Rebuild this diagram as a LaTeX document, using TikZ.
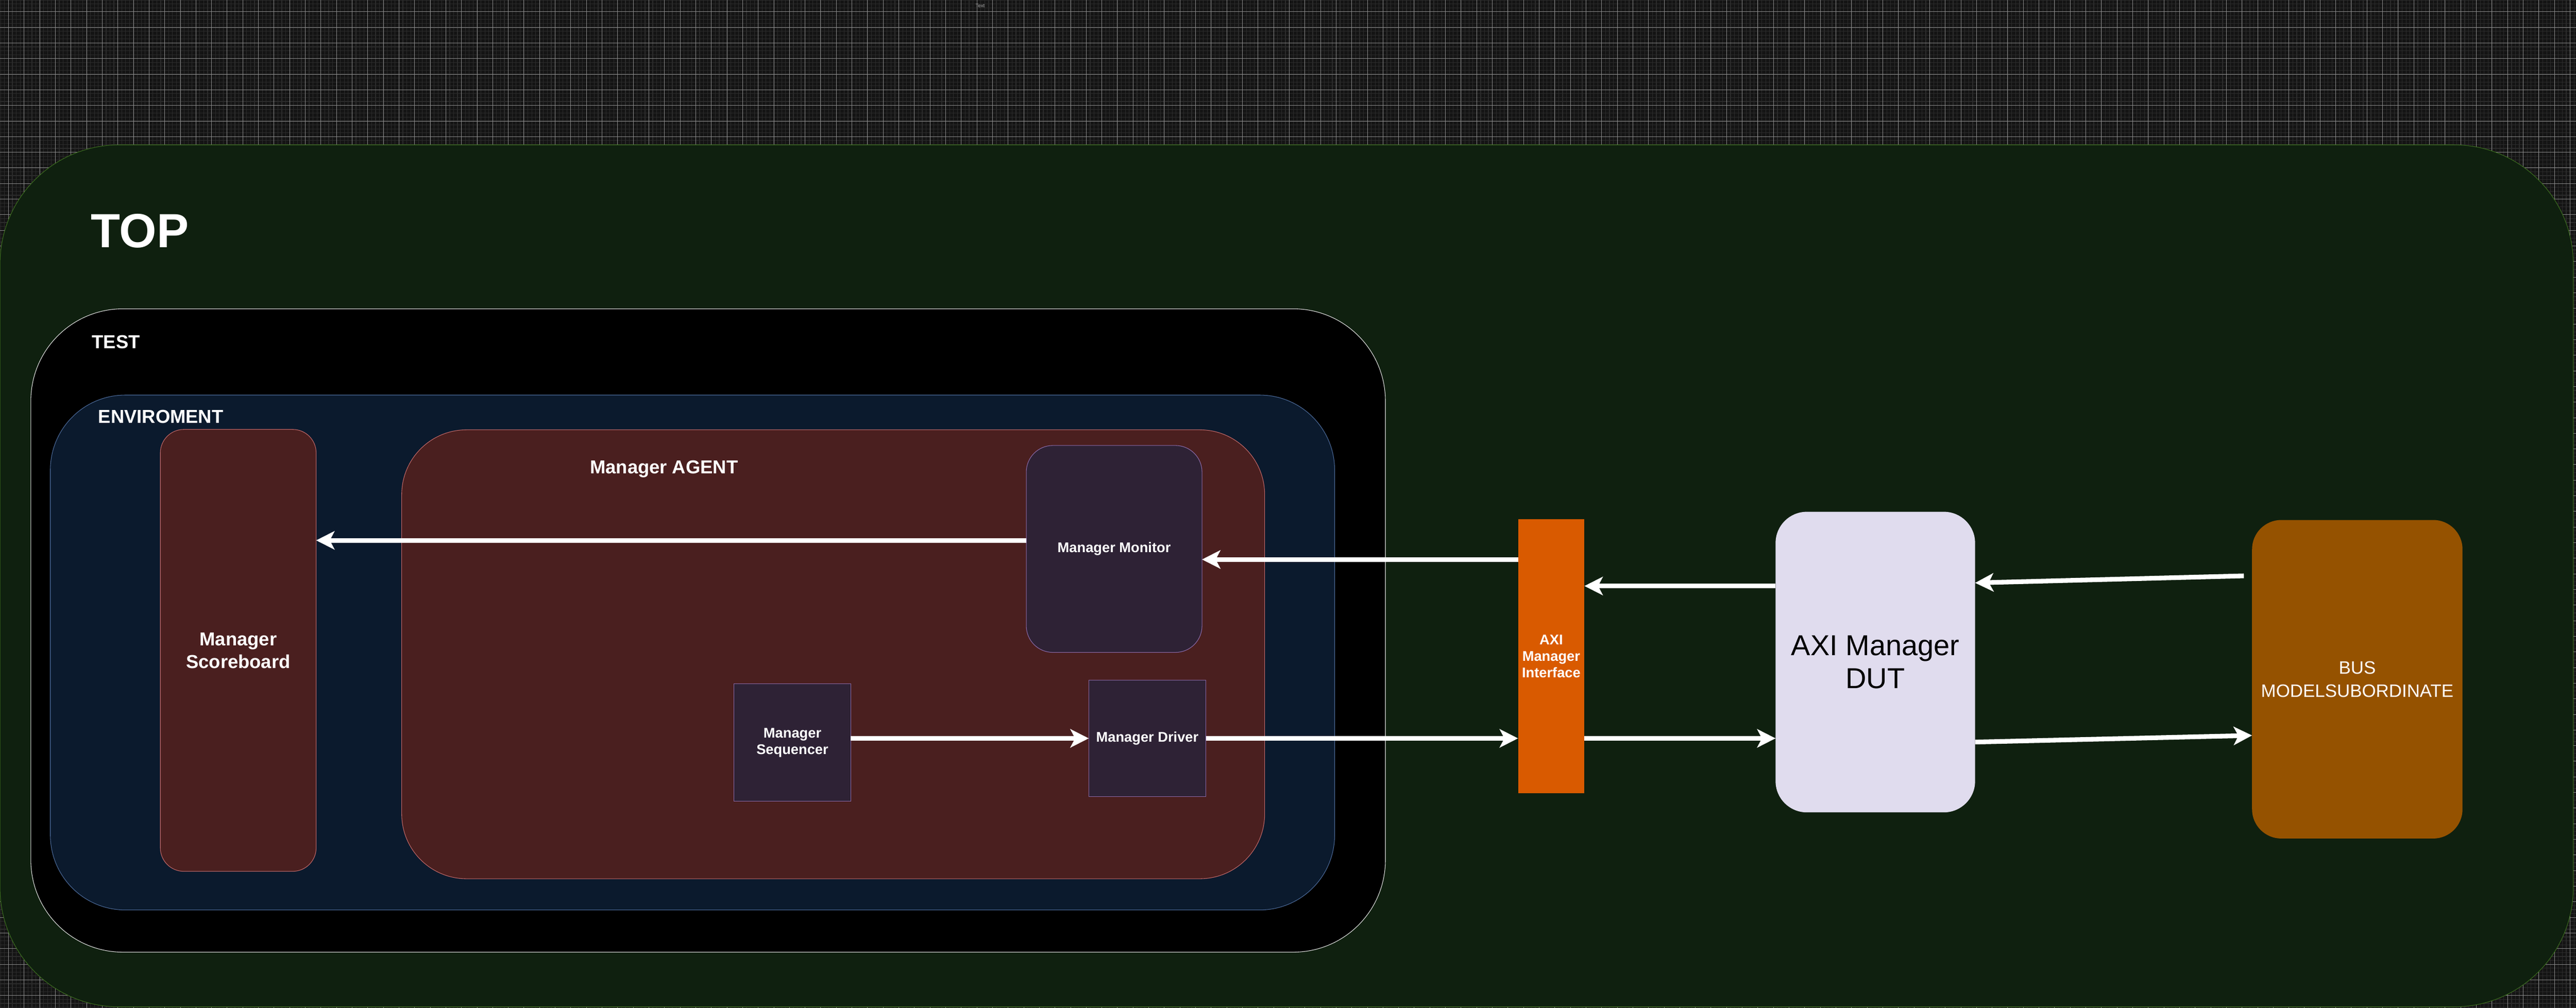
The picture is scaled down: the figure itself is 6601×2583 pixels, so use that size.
\documentclass[tikz,border=0pt]{standalone}
\usepackage{fontspec}
\setmainfont{Liberation Sans}
\usetikzlibrary{arrows.meta,calc}

\definecolor{canvas}{HTML}{141414}
\definecolor{gridfine}{HTML}{2C2C2C}
\definecolor{gridmajor}{HTML}{8A8A8A}
\definecolor{topfill}{HTML}{0F200F}
\definecolor{topline}{HTML}{3C6E1E}
\definecolor{testline}{HTML}{E6E6E6}
\definecolor{envfill}{HTML}{0B1A2D}
\definecolor{envline}{HTML}{4D6C9C}
\definecolor{redfill}{HTML}{4A1F1F}
\definecolor{redline}{HTML}{C46A6A}
\definecolor{purfill}{HTML}{2E2235}
\definecolor{purline}{HTML}{8C6CAC}
\definecolor{ifacefill}{HTML}{D95A00}
\definecolor{dutfill}{HTML}{E0DCEE}
\definecolor{busfill}{HTML}{955200}
\definecolor{stray}{HTML}{B4B4B4}

\tikzstyle{every node}=[inner sep=0pt, outer sep=0pt, text=white, font=\bfseries\fontsize{13.66}{16.5}\selectfont]
\tikzstyle{block}=[rectangle, draw, line width=0.4pt, align=center]
\tikzstyle{title}=[anchor=base west]
\tikzstyle{small}=[font=\bfseries\fontsize{10.24}{12.1}\selectfont]
\tikzstyle{flow}=[draw=white, line width=0.12cm, -{Stealth[length=0.47cm, width=0.47cm, inset=0.12cm]}]

\begin{document}
\begin{tikzpicture}[x=0.01cm, y=-0.01cm]
% Canvas
    \useasboundingbox (0,0) rectangle (6601,2583);
    \fill[canvas] (0,0) rectangle (6601,2583);
    \begin{scope}
    \clip (0,0) rectangle (6601,2583);
    \draw[gridfine, line width=0.45pt, step=0.1cm, shift={(1.7,0)}] (-10,2600) grid (6610,-10);
    \draw[gridmajor, line width=0.3pt, step=0.4cm, shift={(21.7,30)}] (-40,2640) grid (6640,-40);
    \end{scope}
    \node[font=\fontsize{3.6}{4}\selectfont, text=stray, anchor=base west] (stray) at (2500,19) {Text};

% Containers
    \node[block, draw=topline, fill=topfill, rounded corners=3.05cm, minimum width=65.9cm, minimum height=22.08cm] (top) at (3297,1476) {};
    \node[block, draw=testline, fill=black, rounded corners=2.36cm, minimum width=34.69cm, minimum height=16.48cm] (test) at (1814.5,1616) {};
    \node[block, draw=envline, fill=envfill, rounded corners=1.92cm, minimum width=32.89cm, minimum height=13.19cm] (env) at (1774.5,1672.5) {};
    \node[block, draw=redline, fill=redfill, rounded corners=1.66cm, minimum width=22.1cm, minimum height=11.5cm] (agent) at (2135,1677) {};
    \node[title, font=\bfseries\fontsize{35}{40}\selectfont] (toplabel) at (233,635) {TOP};
    \node[title] (testlabel) at (236,893) {TEST};
    \node[title] (envlabel) at (252,1084) {ENVIROMENT};
    \node[title] (agentlabel) at (1512,1214) {Manager AGENT};

% Blocks
    \node[block, draw=redline, fill=redfill, rounded corners=0.6cm, minimum width=3.99cm, minimum height=11.32cm] (score) at (610.5,1667) {Manager\\Scoreboard};
    \node[block, small, draw=purline, fill=purfill, rounded corners=0.68cm, minimum width=4.5cm, minimum height=5.3cm] (monitor) at (2855,1407) {Manager Monitor};
    \node[block, small, draw=purline, fill=purfill, minimum width=2.99cm, minimum height=3.01cm] (seq) at (2030.5,1903.5) {Manager\\Sequencer};
    \node[block, small, draw=purline, fill=purfill, minimum width=3cm, minimum height=2.99cm] (driver) at (2940,1892.5) {Manager Driver};
    \node[block, small, draw=none, fill=ifacefill, minimum width=1.7cm, minimum height=7.02cm] (iface) at (3975,1682) {AXI\\Manager\\Interface};
    \node[block, draw=none, fill=dutfill, text=black, font=\fontsize{21}{23.9}\selectfont, rounded corners=0.8cm, minimum width=5.11cm, minimum height=7.7cm] (dut) at (4805.5,1697) {AXI Manager\\DUT};
    \node[block, draw=none, fill=busfill, font=\fontsize{13.1}{16.8}\selectfont, rounded corners=0.75cm, minimum width=5.39cm, minimum height=8.16cm] (bus) at (6040.5,1741) {BUS\\MODELSUBORDINATE};

% Connectors
    \coordinate (monout) at ($(monitor.west)+(0,-22)$);
    \draw[flow] (monout) -- (monout -| score.east);
    \coordinate (monin) at ($(monitor.east)+(0,27)$);
    \draw[flow] (monin -| iface.west) -- (monin);
    \draw[flow] (seq.east |- driver.west) -- (driver.west);
    \draw[flow] (driver.east) -- (driver.east -| iface.west);
    \coordinate (ifin) at ($(iface.east)+(0,-180)$);
    \draw[flow] (ifin -| dut.west) -- (ifin);
    \draw[flow] (driver.east -| iface.east) -- (driver.east -| dut.west);
    \draw[flow] ($(bus.west)+(-21,-265)$) -- ($(dut.east)+(0,-203)$);
    \draw[flow] ($(dut.east)+(0,205)$) -- ($(bus.west)+(0,144)$);

\end{tikzpicture}
\end{document}
